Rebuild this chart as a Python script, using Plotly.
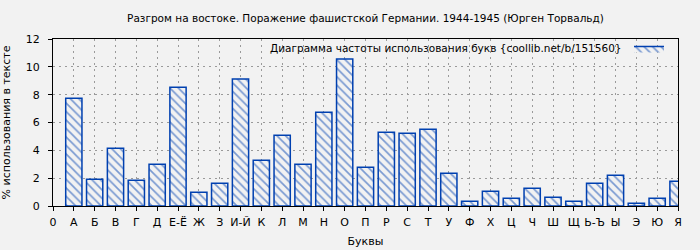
import plotly.graph_objects as go

categories = ["0", "А", "Б", "В", "Г", "Д", "Е-Ё", "Ж", "З", "И-Й", "К", "Л", "М", "Н",
              "О", "П", "Р", "С", "Т", "У", "Ф", "Х", "Ц", "Ч", "Ш", "Щ", "Ь-Ъ", "Ы",
              "Э", "Ю", "Я"]
letters = categories[1:]
values = [7.75, 1.92, 4.15, 1.85, 3.00, 8.54, 0.98, 1.63, 9.12, 3.29, 5.09, 3.00, 6.74,
          10.56, 2.78, 5.30, 5.23, 5.52, 2.35, 0.34, 1.06, 0.55, 1.27, 0.62, 0.34, 1.63,
          2.21, 0.19, 0.55, 1.78]

title_text = "Разгром на востоке. Поражение фашистской Германии. 1944-1945 (Юрген Торвальд)"
legend_text = "Диаграмма частоты использования букв {coollib.net/b/151560}"
x_title = "Буквы"
y_title = "% использования в тексте"

blue = "#0040b0"
bg = "#f2f2f2"
font = "DejaVu Sans"

fig = go.Figure()
fig.add_trace(go.Bar(
    x=letters, y=values, name=" ", width=0.78,
    marker=dict(color=bg, line=dict(color=blue, width=1.5),
                pattern=dict(shape="\\", fgcolor=blue, bgcolor=bg, size=6, solidity=0.28)),
    showlegend=False,
))
# legend-only entry (no data) to get a wide hatched swatch
fig.add_trace(go.Scatter(
    x=[None], y=[None], name=" ", mode="lines", fill="toself",
    line=dict(color=blue, width=1.5),
    fillpattern=dict(shape="\\", fgcolor=blue, bgcolor=bg, size=6, solidity=0.28),
    showlegend=True,
))

fig.update_layout(
    width=700, height=250,
    paper_bgcolor=bg, plot_bgcolor=bg,
    margin=dict(l=53, r=22, t=39, b=44, autoexpand=False),
    font=dict(family=font, size=11, color="black"),
    title=dict(text=title_text, xref="paper", x=0.5, xanchor="center", y=0.925, yanchor="middle",
               font=dict(size=10.5)),
    showlegend=True,
    legend=dict(x=1.0, y=1.03, xanchor="right", yanchor="top", bgcolor="rgba(0,0,0,0)",
                borderwidth=0, font=dict(size=10.5), itemwidth=30),
    annotations=[dict(text=legend_text, xref="paper", yref="paper", x=0.914, y=0.995,
                      xanchor="right", yanchor="top", showarrow=False, font=dict(size=10.5))],
)
fig.update_xaxes(
    type="category", categoryorder="array", categoryarray=categories, automargin=False,
    range=[0, 30], showgrid=True, gridcolor="#9a9a9a", griddash="2px,4px", gridwidth=1,
    showline=True, mirror=True, linecolor="black", linewidth=1,
    ticks="outside", ticklen=4, tickcolor="black", ticklabelstandoff=2,
    tickfont=dict(size=11), title=dict(text=x_title, font=dict(size=11), standoff=9),
)
fig.update_yaxes(
    range=[0, 12], dtick=2, showgrid=True, gridcolor="#9a9a9a", griddash="2px,4px", gridwidth=1,
    showline=True, mirror=True, linecolor="black", linewidth=1, zeroline=False, automargin=False,
    ticks="outside", ticklen=4, tickcolor="black", ticklabelstandoff=6,
    tickfont=dict(size=11), title=dict(text=y_title, font=dict(size=11), standoff=12),
)

fig.write_html("out.html")
